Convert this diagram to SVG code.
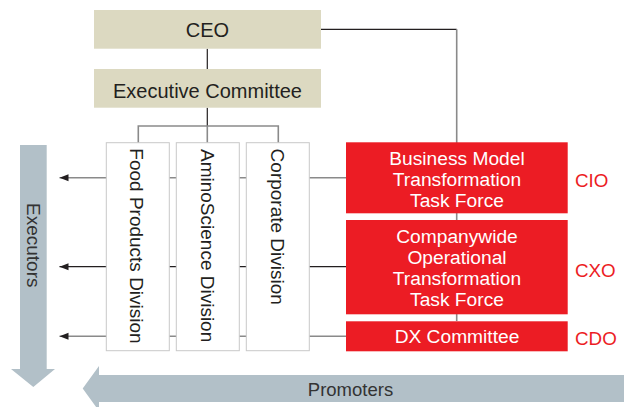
<svg xmlns="http://www.w3.org/2000/svg" width="624" height="407" viewBox="0 0 624 407">
  <style>
    text { font-family: "Liberation Sans", Arial, sans-serif; }
    .beige { fill: #dcd9c1; }
    .div { fill: #ffffff; stroke: #c9c9c9; stroke-width: 1; }
    .red { fill: #ec1c24; }
    .wt { fill: #ffffff; font-size: 19.2px; text-anchor: middle; }
    .rl { fill: #ec1c24; font-size: 18.8px; }
    .dt { fill: #231f20; font-size: 19px; }
    .ht { fill: #231f20; font-size: 20px; text-anchor: middle; }
    .ln { stroke: #8a8a8a; stroke-width: 1.6; fill: none; }
    .lnd { stroke: #231f20; stroke-width: 1.2; fill: none; }
    .big { fill: #b2c0c8; }
    .bt { fill: #333333; font-size: 18.5px; }
  </style>
  <defs>
    <marker id="ah" markerWidth="10" markerHeight="8" refX="9" refY="4" orient="auto" markerUnits="userSpaceOnUse">
      <path d="M0,0.5 L9,4 L0,7.5 Z" fill="#231f20"/>
    </marker>
  </defs>

  <!-- big arrows -->
  <g id="executors">
    <path class="big" d="M20,145 H46.7 V369 H55 L33.3,387 L11,369 H20 Z"/>
    <text class="bt" transform="translate(27,203) rotate(90)" style="font-size:19px">Executors</text>
  </g>
  <g id="promoters">
    <path class="big" d="M624,375 V402 H99 V411 L82.7,388.5 L99,366 V375 Z"/>
    <text class="bt" x="350.5" y="396" text-anchor="middle">Promoters</text>
  </g>

  <!-- connectors -->
  <g id="connectors">
    <path class="lnd" d="M321,29.3 H456.7"/>
    <path class="ln" d="M456.7,29.3 V321"/>
    <path class="lnd" d="M207.3,48.7 V69"/>
    <path class="lnd" d="M207.3,107.7 V126"/>
    <path class="ln" d="M138.3,143 V126 H278.3 V143"/>
    <path class="ln" d="M207.3,126 V143"/>
    <path class="ln" d="M346,177.7 H59.5" marker-end="url(#ah)"/>
    <path class="lnd" d="M346,266.7 H59.5" marker-end="url(#ah)"/>
    <path class="ln" d="M346,336.3 H59.5" marker-end="url(#ah)"/>
  </g>

  <g id="ceo">
    <rect class="beige" x="94" y="10" width="227" height="38.7"/>
    <text class="ht" x="207.5" y="36.5">CEO</text>
  </g>
  <g id="exec">
    <rect class="beige" x="94" y="69" width="227" height="38.7"/>
    <text class="ht" x="207.5" y="98.3">Executive Committee</text>
  </g>

  <g id="food">
    <rect class="div" x="106.3" y="142.7" width="63" height="208"/>
    <text class="dt" transform="translate(130,148.3) rotate(90)">Food Products Division</text>
  </g>
  <g id="amino">
    <rect class="div" x="176.3" y="142.7" width="63" height="208"/>
    <text class="dt" transform="translate(200.5,149) rotate(90)">AminoScience Division</text>
  </g>
  <g id="corporate">
    <rect class="div" x="246.3" y="142.7" width="63" height="208"/>
    <text class="dt" transform="translate(271,148.6) rotate(90)">Corporate Division</text>
  </g>

  <g id="bmtf">
    <rect class="red" x="346" y="142.3" width="221.7" height="71"/>
    <text class="wt" x="457" y="165">Business Model</text>
    <text class="wt" x="457" y="186">Transformation</text>
    <text class="wt" x="457" y="206.7">Task Force</text>
    <text class="rl" x="575" y="187">CIO</text>
  </g>
  <g id="cotf">
    <rect class="red" x="346" y="220" width="221.7" height="94.3"/>
    <text class="wt" x="457" y="243.3">Companywide</text>
    <text class="wt" x="457" y="264">Operational</text>
    <text class="wt" x="457" y="285">Transformation</text>
    <text class="wt" x="457" y="306">Task Force</text>
    <text class="rl" x="575" y="276.5">CXO</text>
  </g>
  <g id="dx">
    <rect class="red" x="346" y="321.3" width="221.7" height="30"/>
    <text class="wt" x="457" y="342.7">DX Committee</text>
    <text class="rl" x="575" y="345">CDO</text>
  </g>
</svg>
